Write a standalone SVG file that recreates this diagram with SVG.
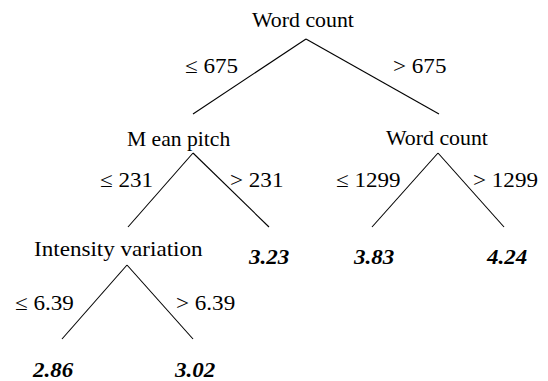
<svg xmlns="http://www.w3.org/2000/svg" width="548" height="381" viewBox="0 0 548 381">
<style>
.e{stroke:#000;stroke-width:1.1;fill:none}
</style>
<rect width="548" height="381" fill="#fff"/>
<g id="connectors">
<line class="e" x1="306" y1="39" x2="193" y2="114"/>
<line class="e" x1="306" y1="39" x2="439" y2="114"/>
<line class="e" x1="193" y1="153" x2="128" y2="227"/>
<line class="e" x1="193" y1="153" x2="269" y2="227"/>
<line class="e" x1="438" y1="153" x2="372" y2="227"/>
<line class="e" x1="438" y1="153" x2="504" y2="227"/>
<line class="e" x1="127" y1="265" x2="62" y2="339"/>
<line class="e" x1="127" y1="265" x2="193" y2="339"/>
<text font-family="Liberation Serif" font-size="21" fill="#000" transform="translate(185,73) scale(1.1,1)">≤ 675</text>
<text font-family="Liberation Serif" font-size="21" fill="#000" transform="translate(393,73) scale(1.1,1)">&gt; 675</text>
<text font-family="Liberation Serif" font-size="21" fill="#000" transform="translate(100,187) scale(1.1,1)">≤ 231</text>
<text font-family="Liberation Serif" font-size="21" fill="#000" transform="translate(230,187) scale(1.1,1)">&gt; 231</text>
<text font-family="Liberation Serif" font-size="21" fill="#000" transform="translate(336,187) scale(1.1,1)">≤ 1299</text>
<text font-family="Liberation Serif" font-size="21" fill="#000" transform="translate(473,187) scale(1.1,1)">&gt; 1299</text>
<text font-family="Liberation Serif" font-size="21" fill="#000" transform="translate(15,310) scale(1.1,1)">≤ 6.39</text>
<text font-family="Liberation Serif" font-size="21" fill="#000" transform="translate(176,310) scale(1.1,1)">&gt; 6.39</text>
</g>
<g id="n-root"><text font-family="Liberation Serif" font-size="21" fill="#000" transform="translate(252,27) scale(1.04,1)">Word count</text></g>
<g id="n-mean-pitch"><text font-family="Liberation Serif" font-size="21" fill="#000" transform="translate(127,145.5) scale(1.03,1)">M ean pitch</text></g>
<g id="n-word-count-2"><text font-family="Liberation Serif" font-size="21" fill="#000" transform="translate(386,145) scale(1.04,1)">Word count</text></g>
<g id="n-intensity"><text font-family="Liberation Serif" font-size="21" fill="#000" transform="translate(34,256) scale(1.1,1)">Intensity variation</text></g>
<g id="leaf-323"><text font-family="Liberation Serif" font-size="20" font-weight="bold" font-style="italic" fill="#000" transform="translate(249,264) scale(1.15,1)">3.23</text></g>
<g id="leaf-383"><text font-family="Liberation Serif" font-size="20" font-weight="bold" font-style="italic" fill="#000" transform="translate(354,264) scale(1.15,1)">3.83</text></g>
<g id="leaf-424"><text font-family="Liberation Serif" font-size="20" font-weight="bold" font-style="italic" fill="#000" transform="translate(487,264) scale(1.15,1)">4.24</text></g>
<g id="leaf-286"><text font-family="Liberation Serif" font-size="20" font-weight="bold" font-style="italic" fill="#000" transform="translate(33,377) scale(1.15,1)">2.86</text></g>
<g id="leaf-302"><text font-family="Liberation Serif" font-size="20" font-weight="bold" font-style="italic" fill="#000" transform="translate(175,377) scale(1.15,1)">3.02</text></g>
</svg>
